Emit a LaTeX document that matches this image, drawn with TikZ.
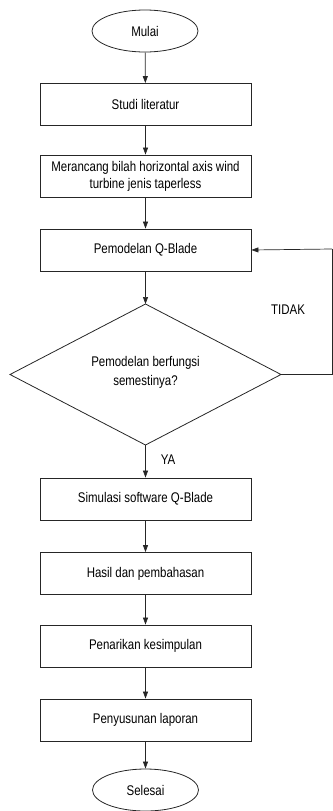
\documentclass[tikz,border=0pt]{standalone}
\usepackage{fontspec}
\setmainfont{Liberation Sans}[FakeStretch=0.82]
\usetikzlibrary{shapes.geometric,arrows.meta}
\tikzset{
  base/.style={draw=black!85, line width=0.8pt, font=\fontsize{14}{17}\selectfont, align=center, inner sep=0pt},
  procbox/.style={base, rectangle, minimum width=211pt, minimum height=42pt},
  term/.style={base, ellipse, minimum width=106pt, minimum height=42pt},
  decidetext/.style={font=\fontsize{14}{17}\selectfont, align=center, inner sep=0pt},
  decideline/.style={draw=black!85, line width=0.8pt},
  conn/.style={draw=black!85, line width=0.7pt, -{Triangle[length=7pt,width=5pt]}},
  plain/.style={draw=black!85, line width=0.7pt},
  lbl/.style={font=\fontsize{14}{17}\selectfont, inner sep=0pt}
}
\begin{document}
\begin{tikzpicture}[x=1pt,y=-1pt]
\useasboundingbox (0,0) rectangle (332,811);
\node[term] (mulai) at (145,31) {Mulai};
\node[procbox] (studi) at (145.5,104.5) {Studi literatur};
\node[procbox] (rancang) at (145.5,176) {Merancang bilah horizontal axis wind\\turbine jenis taperless};
\node[procbox] (model) at (145.5,250) {Pemodelan Q-Blade};
\coordinate (dt) at (145.5,304);
\coordinate (db) at (145.5,445);
\coordinate (dl) at (10,374.5);
\coordinate (dr) at (281,374.5);
\draw[decideline] (dt) -- (dr) -- (db) -- (dl) -- cycle;
\node[decidetext] (cek) at (145.5,372.5) {Pemodelan berfungsi\\[2pt]semestinya?};
\node[procbox] (sim) at (145.5,499) {Simulasi software Q-Blade};
\node[procbox] (hasil) at (145.5,573.5) {Hasil dan pembahasan};
\node[procbox] (tarik) at (145.5,646) {Penarikan kesimpulan};
\node[procbox] (susun) at (145.5,720) {Penyusunan laporan};
\node[term] (selesai) at (145.5,790) {Selesai};
\coordinate (r1) at (332,374.5);
\coordinate (r2) at (332,249);
\node[lbl] (tidak) at (288,310) {TIDAK};
\node[lbl] (ya) at (168,460) {YA};
\draw[conn] (mulai) -- (studi);
\draw[conn] (studi) -- (rancang);
\draw[conn] (rancang) -- (model);
\draw[conn] (model) -- (dt);
\draw[conn] (db) -- (sim);
\draw[conn] (sim) -- (hasil);
\draw[conn] (hasil) -- (tarik);
\draw[conn] (tarik) -- (susun);
\draw[conn] (susun) -- (selesai);
\draw[plain] (dr) -- (r1) -- (r2);
\draw[conn] (r2) -- (model.east);
\end{tikzpicture}
\end{document}
